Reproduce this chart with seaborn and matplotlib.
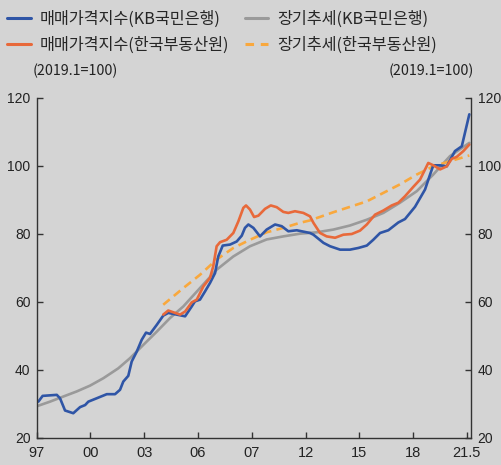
import matplotlib
matplotlib.use('Agg')
import matplotlib.pyplot as plt
import numpy as np
import pandas as pd
import seaborn as sns
from matplotlib.lines import Line2D

# Data (year as decimal, index 2019.1=100)
kb_year = [1997.09, 1997.33, 1998.12, 1998.30, 1998.58, 1999.04, 1999.42, 1999.70, 1999.88,
           2000.35, 2000.91, 2001.37, 2001.65, 2001.83, 2002.11, 2002.30, 2002.58, 2002.86,
           2003.10, 2003.32, 2003.70, 2004.06, 2004.34, 2004.81, 2005.28, 2005.65, 2005.83,
           2006.11, 2006.39, 2006.67, 2006.95, 2007.13, 2007.38, 2007.79, 2008.16, 2008.44,
           2008.62, 2008.81, 2009.09, 2009.46, 2009.83, 2010.30, 2010.67, 2011.04, 2011.51,
           2012.25, 2012.44, 2013.00, 2013.37, 2013.93, 2014.48, 2014.95, 2015.42, 2015.78,
           2016.16, 2016.62, 2017.18, 2017.55, 2018.11, 2018.67, 2018.95, 2019.13, 2019.51,
           2019.88, 2020.34, 2020.72, 2021.14]
kb_index = [30.6, 32.3, 32.6, 31.6, 28.0, 27.2, 29.0, 29.6, 30.6,
            31.6, 32.8, 32.8, 34.1, 36.5, 38.2, 42.4, 45.3, 48.8,
            50.9, 50.5, 53.2, 55.9, 56.7, 56.2, 55.7, 58.6, 60.1,
            60.6, 63.0, 65.5, 68.4, 73.3, 76.5, 76.8, 77.7, 79.4,
            81.7, 82.7, 81.7, 79.2, 81.2, 82.7, 82.2, 80.7, 81.0,
            80.2, 79.7, 77.3, 76.3, 75.3, 75.3, 75.8, 76.5, 78.2,
            80.2, 81.0, 83.3, 84.3, 87.9, 93.0, 97.4, 100.1, 100.1,
            99.8, 104.3, 105.7, 115.1]

reb_year = [2004.06, 2004.34, 2005.00, 2005.28, 2005.65, 2005.93, 2006.30, 2006.67, 2006.85,
            2007.04, 2007.23, 2007.60, 2007.97, 2008.25, 2008.53, 2008.68, 2008.90, 2009.13,
            2009.37, 2009.74, 2010.06, 2010.39, 2010.76, 2011.04, 2011.41, 2011.88, 2012.25,
            2012.44, 2012.81, 2013.18, 2013.65, 2014.11, 2014.58, 2015.04, 2015.42, 2015.88,
            2016.34, 2016.81, 2017.18, 2017.55, 2018.02, 2018.39, 2018.85, 2019.13, 2019.51,
            2019.88, 2020.16, 2020.44, 2020.81, 2021.14]
reb_index = [56.2, 57.4, 56.2, 57.1, 59.8, 60.6, 64.5, 67.0, 70.4,
             76.3, 77.5, 78.2, 80.2, 83.6, 87.6, 88.3, 87.1, 84.9,
             85.3, 87.3, 88.3, 87.8, 86.4, 86.1, 86.6, 86.1, 85.1,
             83.2, 80.2, 79.2, 78.8, 79.7, 79.9, 80.9, 82.7, 85.6,
             86.8, 88.3, 89.1, 91.0, 93.8, 95.9, 100.8, 100.1, 98.9,
             99.8, 102.0, 102.6, 104.3, 106.2]

kb_trend_year = [1997.03, 1997.74, 1998.48, 1999.23, 1999.97, 2000.72, 2001.55, 2002.21, 2002.95,
                 2003.70, 2004.44, 2005.18, 2006.11, 2007.04, 2007.97, 2008.90, 2009.83, 2010.76,
                 2011.69, 2012.62, 2013.55, 2014.48, 2015.42, 2016.34, 2017.27, 2018.21, 2019.13,
                 2020.06, 2021.14]
kb_trend = [29.3, 30.6, 32.1, 33.6, 35.3, 37.5, 40.4, 43.4, 47.3,
            51.2, 55.2, 58.6, 64.0, 69.4, 73.3, 76.3, 78.3, 79.2,
            80.0, 80.4, 81.2, 82.4, 84.1, 86.1, 89.1, 92.5, 97.4,
            102.8, 106.7]

reb_trend_year = [2004.06, 2005.18, 2006.11, 2007.04, 2007.97, 2008.90, 2009.83, 2010.76, 2011.69,
                  2012.25, 2013.55, 2015.42, 2017.27, 2018.21, 2019.13, 2020.06, 2021.14]
reb_trend = [59.1, 64.0, 67.9, 72.4, 75.8, 78.2, 80.4, 81.7, 83.2,
             83.9, 86.3, 89.5, 94.5, 97.4, 99.8, 101.3, 103.0]

tick_years = [1997, 2000, 2003, 2006, 2009, 2012, 2015, 2018, 2021]
tick_labels = ['97', '00', '03', '06', '07', '12', '15', '18', '21.5']
y_ticks = [20, 40, 60, 80, 100, 120]

# legend fills column by column: col 1 = 매매가격지수, col 2 = 장기추세
series_names = ['매매가격지수(KB국민은행)', '매매가격지수(한국부동산원)',
                '장기추세(KB국민은행)', '장기추세(한국부동산원)']

bg = '#d4d4d4'
c_blue = '#2f55a6'
c_orange = '#e8693a'
c_gray = '#9a9a9a'
c_dash = '#f9a83d'

sns.set_theme(style='white')
plt.rcParams['font.family'] = ['Noto Sans CJK KR', 'DejaVu Sans']
plt.rcParams['axes.unicode_minus'] = False

fig = plt.figure(figsize=(5.01, 4.65), dpi=100, facecolor=bg)
ax = fig.add_axes([0.0733, 0.0587, 0.8674, 0.7313])
ax.set_facecolor(bg)

lw = 1.9
sns.lineplot(x=kb_trend_year, y=kb_trend, ax=ax, color=c_gray, linewidth=lw)
sns.lineplot(x=reb_trend_year, y=reb_trend, ax=ax, color=c_dash, linewidth=lw,
             linestyle=(0, (3.2, 2.0)))
sns.lineplot(x=kb_year, y=kb_index, ax=ax, color=c_blue, linewidth=lw)
sns.lineplot(x=reb_year, y=reb_index, ax=ax, color=c_orange, linewidth=lw)

ax.set_xlim(1997, 2021.25)
ax.set_ylim(20, 120)
ax.set_xticks(tick_years)
ax.set_xticklabels(tick_labels)
ax.set_yticks(y_ticks)
ax.set_xlabel('')
ax.set_ylabel('')

for side in ['left', 'right', 'bottom']:
    ax.spines[side].set_visible(True)
    ax.spines[side].set_color('#333333')
    ax.spines[side].set_linewidth(1.0)
ax.spines['top'].set_visible(False)

ax.tick_params(axis='y', which='both', direction='in', length=4, width=1, color='#333333',
               left=True, right=True, labelleft=True, labelright=True, pad=4.5, labelsize=10,
               labelcolor='#222222')
ax.tick_params(axis='x', direction='in', length=4, width=1, color='#333333', bottom=True,
               pad=6, labelsize=10.5, labelcolor='#222222')
for lab in ax.get_xticklabels():
    lab.set_family(['Liberation Sans', 'DejaVu Sans'])
for t in ax.yaxis.get_major_ticks():
    t.label1.set_family(['Liberation Sans', 'DejaVu Sans'])
    t.label2.set_family(['Liberation Sans', 'DejaVu Sans'])

handles = [
    Line2D([], [], color=c_blue, linewidth=2.2),
    Line2D([], [], color=c_orange, linewidth=2.2),
    Line2D([], [], color=c_gray, linewidth=2.2),
    Line2D([], [], color=c_dash, linewidth=2.2, linestyle=(0, (2.8, 2.2))),
]
fig.legend(handles, series_names, loc='upper left', bbox_to_anchor=(-0.008, 1.002), ncol=2,
           frameon=False, fontsize=11.7, handlelength=1.45, handletextpad=0.55,
           columnspacing=0.95, labelspacing=0.55, borderaxespad=0.3)

fig.text(33 / 501, 1 - 71 / 465, '(2019.1=100)', ha='left', va='center', fontsize=10.3,
         color='#222222')
fig.text(474 / 501, 1 - 71 / 465, '(2019.1=100)', ha='right', va='center', fontsize=10.3,
         color='#222222')

fig.savefig('out.png', dpi=100, facecolor=bg)
